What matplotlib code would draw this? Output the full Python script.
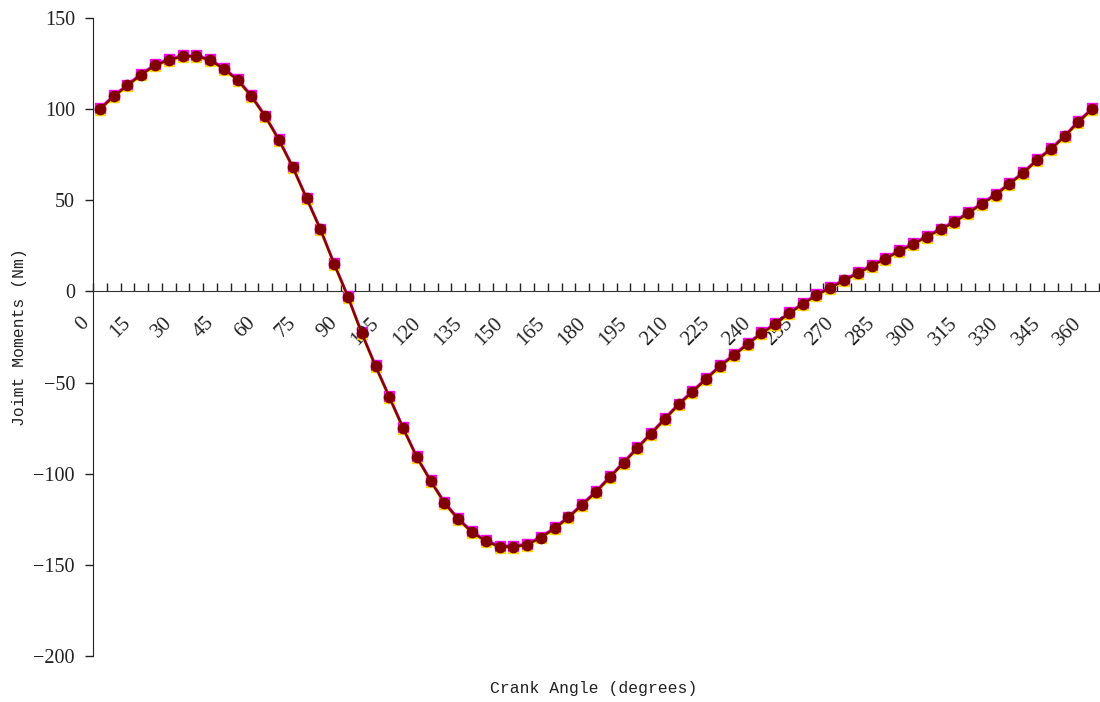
import numpy as np
import matplotlib
matplotlib.use("Agg")
from matplotlib import pyplot as plt
from matplotlib.transforms import offset_copy

# crank angle, degrees (one category per 5 deg)
angles = list(range(0, 365, 5))

# joint moments (Nm) for the three overlaid runs
moment_a = [100, 107, 113, 119, 124, 127, 129, 129, 127, 122,
            116, 107, 96, 83, 68, 51, 34, 15, -3, -23,
            -41, -58, -75, -91, -104, -116, -125, -132, -137, -140,
            -140, -139, -135, -130, -124, -117, -110, -102, -94, -86,
            -78, -70, -62, -55, -48, -41, -35, -29, -23, -18,
            -12, -7, -2, 2, 6, 10, 14, 18, 22, 26,
            30, 34, 38, 43, 48, 53, 59, 65, 72, 78,
            85, 93, 100]
moment_b = [100.5, 107.5, 113.5, 119.5, 124.5, 127.5, 129.5, 129.5, 127.5, 122.5,
            116.5, 107.5, 96.5, 83.5, 68.5, 51.5, 34.5, 15.5, -2.5, -22.5,
            -40.5, -57.5, -74.5, -90.5, -103.5, -115.5, -124.5, -131.5, -136.5, -139.5,
            -139.5, -138.5, -134.5, -129.5, -123.5, -116.5, -109.5, -101.5, -93.5, -85.5,
            -77.5, -69.5, -61.5, -54.5, -47.5, -40.5, -34.5, -28.5, -22.5, -17.5,
            -11.5, -6.5, -1.5, 2.5, 6.5, 10.5, 14.5, 18.5, 22.5, 26.5,
            30.5, 34.5, 38.5, 43.5, 48.5, 53.5, 59.5, 65.5, 72.5, 78.5,
            85.5, 93.5, 100.5]
moment_c = [99.5, 106.5, 112.5, 118.5, 123.5, 126.5, 128.5, 128.5, 126.5, 121.5,
            115.5, 106.5, 95.5, 82.5, 67.5, 50.5, 33.5, 14.5, -3.5, -23.5,
            -41.5, -58.5, -75.5, -91.5, -104.5, -116.5, -125.5, -132.5, -137.5, -140.5,
            -140.5, -139.5, -135.5, -130.5, -124.5, -117.5, -110.5, -102.5, -94.5, -86.5,
            -78.5, -70.5, -62.5, -55.5, -48.5, -41.5, -35.5, -29.5, -23.5, -18.5,
            -12.5, -7.5, -2.5, 1.5, 5.5, 9.5, 13.5, 17.5, 21.5, 25.5,
            29.5, 33.5, 37.5, 42.5, 47.5, 52.5, 58.5, 64.5, 71.5, 77.5,
            84.5, 92.5, 99.5]

ylim = (-200, 150)
yticks = [-200, -150, -100, -50, 0, 50, 100, 150]

fig = plt.figure(figsize=(11, 7.02), dpi=100)
ax = fig.add_axes([93/1100, 1-656/702, (1099-93)/1100, (656-18)/702])

pos = np.arange(len(angles))
ax.plot(pos, moment_b, color='#ff00ff', lw=1.8, marker='s', ms=7.2, mec='#ff00ff', mfc='#ff00ff', zorder=3)
ax.plot(pos, moment_c, color='#ffd700', lw=1.8, marker='^', ms=7.2, mec='#ffd700', mfc='#ffd700', zorder=4)
ax.plot(pos, moment_a, color='#800000', lw=1.8, marker='o', ms=7.4, mec='#800000', mfc='#800000', zorder=5)

ax.set_xlim(-0.5, len(angles) - 0.5)
ax.set_ylim(*ylim)
ax.set_yticks(yticks)
ax.set_yticklabels(['\u2212%d' % -v if v < 0 else str(v) for v in yticks],
                   family='Liberation Serif', fontsize=14.5)
ax.tick_params(axis='y', direction='out', length=6, width=1, colors='#222222', pad=7)

# x axis crosses at zero, tick marks between categories
for s in ['top', 'right']:
    ax.spines[s].set_visible(False)
ax.spines['bottom'].set_position(('data', 0))
ax.spines['left'].set_color('#222222')
ax.spines['bottom'].set_color('#333333')
ax.set_xticks(np.arange(-0.5, len(angles), 1))
ax.set_xticklabels([])
ax.tick_params(axis='x', which='major', direction='in', length=6, width=1, colors='#222222')

# every third category gets a rotated label below the zero line
lab_trans = offset_copy(ax.transData, fig=fig, x=-13, y=-29, units='dots')
for i in pos[::3]:
    ax.text(i, 0, str(angles[i]), transform=lab_trans, rotation=45,
            ha='right', va='center', rotation_mode='anchor',
            family='Liberation Serif', fontsize=15, color='#222222')

fig.text(594/1100, 1-688/702, 'Crank Angle (degrees)', family='Liberation Mono',
         fontsize=11.8, ha='center', va='center', color='#222222')
fig.text(20/1100, 1-337/702, 'Joimt Moments (Nm)', family='Liberation Mono',
         fontsize=11.8, ha='center', va='center', rotation=90, color='#222222')

fig.savefig('out.png', dpi=100)
